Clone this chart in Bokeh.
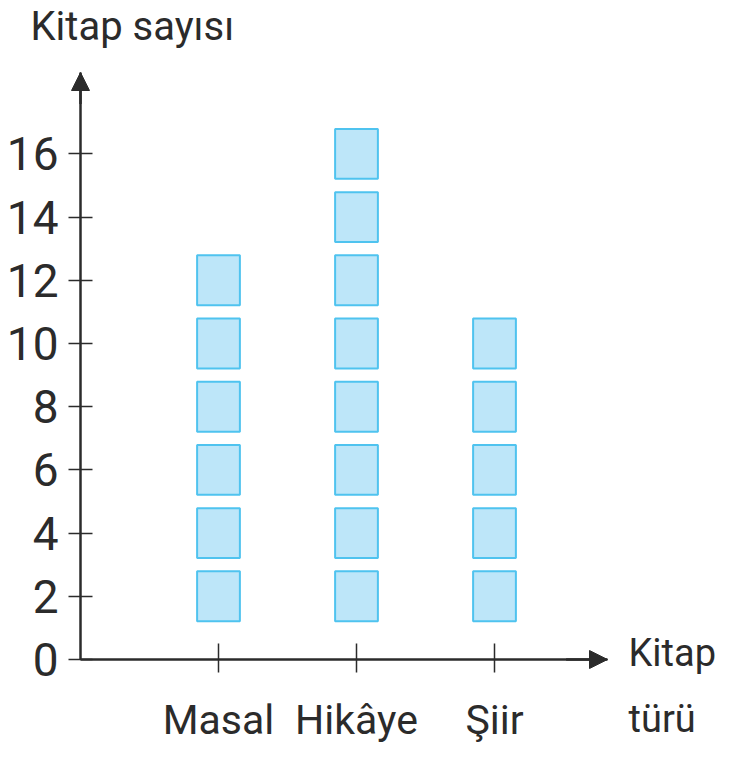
from bokeh.plotting import figure
from bokeh.models import FixedTicker, Range1d, Label, Arrow, NormalHead, LinearAxis
from bokeh.embed import file_html
from bokeh.resources import INLINE

categories = ["Masal", "Hikâye", "Şiir"]
counts = [12, 16, 10]
per_icon = 2
y_ticks = [0, 2, 4, 6, 8, 10, 12, 14, 16]
y_title = "Kitap sayısı"
x_title = "Kitap\ntürü"

FONT = "Roboto"
DARK = "#2b2b2b"
x_pos = list(range(1, len(categories) + 1))

W, H = 722, 750
# frame covers the whole canvas; origin of the axes at (X0, Y0) px
X0, Y0, SX, SY = 80, 659, 138.0, 31.6
p = figure(width=W, height=H, output_backend="svg", toolbar_location=None,
           x_range=Range1d(-X0 / SX, (W - X0) / SX),
           y_range=Range1d(-(H - Y0) / SY, Y0 / SY),
           x_axis_type=None, y_axis_type=None, min_border=0)
p.outline_line_color = None
p.grid.visible = False

X_END, Y_END = (607 - X0) / SX, (Y0 - 72) / SY

# squares (each = per_icon books)
xs, ys = [], []
for xp, c in zip(x_pos, counts):
    for k in range(per_icon, c + 1, per_icon):
        xs.append(xp)
        ys.append(k)
p.rect(x=xs, y=ys, width=0.31, height=1.58, fill_color="#bde6f9",
       line_color="#4fc3ef", line_width=2)

yax = LinearAxis(ticker=FixedTicker(ticks=y_ticks), fixed_location=0, bounds=(0, Y_END))
yax.axis_line_color = DARK
yax.axis_line_width = 2.5
yax.major_tick_in = 12
yax.major_tick_out = 12
yax.major_tick_line_color = DARK
yax.major_tick_line_width = 1.5
yax.minor_tick_line_color = None
yax.major_label_text_font = FONT
yax.major_label_text_font_size = "46px"
yax.major_label_text_color = DARK
yax.major_label_standoff = 10
p.add_layout(yax, "left")

xax = LinearAxis(ticker=FixedTicker(ticks=x_pos), fixed_location=0, bounds=(0, X_END),
                 major_label_overrides={xp: c for xp, c in zip(x_pos, categories)})
xax.axis_line_color = DARK
xax.axis_line_width = 2.5
xax.major_tick_in = 16
xax.major_tick_out = 13
xax.major_tick_line_color = DARK
xax.major_tick_line_width = 1.5
xax.minor_tick_line_color = None
xax.major_label_text_font = FONT
xax.major_label_text_font_size = "41px"
xax.major_label_text_color = DARK
xax.major_label_standoff = 23
p.add_layout(xax, "below")

p.add_layout(Arrow(end=NormalHead(size=18, fill_color=DARK, line_color=DARK),
                   x_start=0, y_start=Y_END - 1, x_end=0, y_end=Y_END,
                   line_color=DARK, line_width=2.5))
p.add_layout(Arrow(end=NormalHead(size=18, fill_color=DARK, line_color=DARK),
                   x_start=X_END - 0.3, y_start=0, x_end=X_END, y_end=0,
                   line_color=DARK, line_width=2.5))

p.add_layout(Label(x=(30 - X0) / SX, y=(Y0 - 2) / SY, text=y_title,
                   text_font=FONT, text_font_size="40px", text_color=DARK,
                   text_baseline="top"))
p.add_layout(Label(x=(628 - X0) / SX, y=(Y0 - 630) / SY, text=x_title,
                   text_font=FONT, text_font_size="38px", text_color=DARK,
                   text_baseline="top", text_line_height=1.5))

open("out.html", "w").write(file_html(p, INLINE))
